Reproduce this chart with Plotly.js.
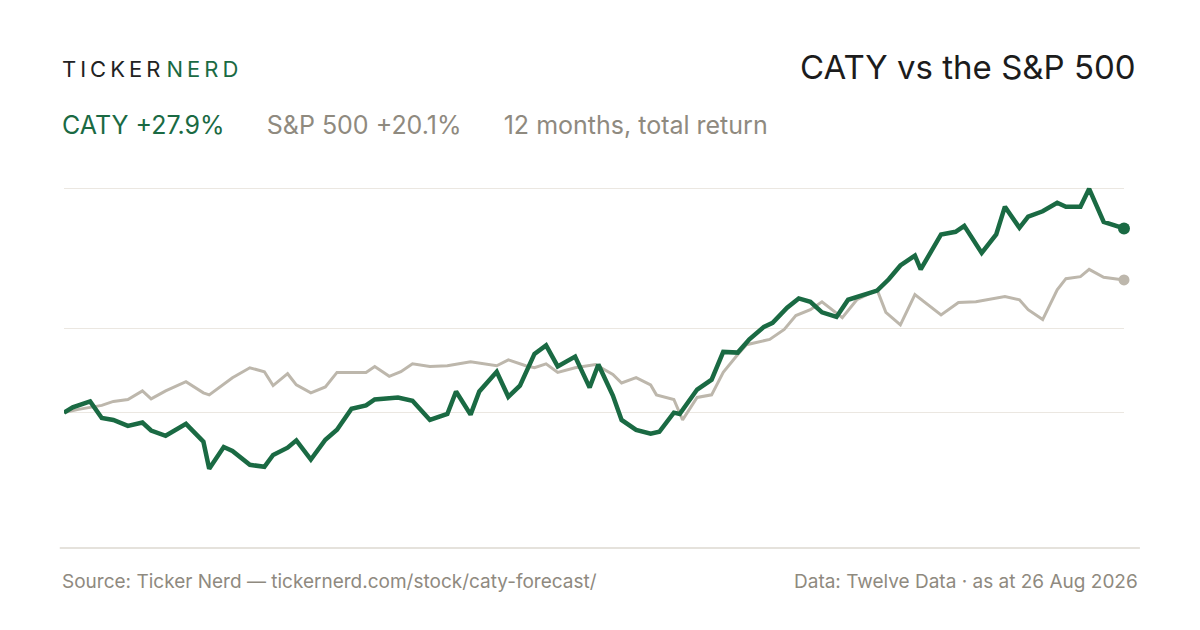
<!DOCTYPE html>
<html>
<head>
<meta charset="utf-8">
<script src="https://cdn.plot.ly/plotly-3.0.1.min.js"></script>
<style>
  html, body { margin: 0; padding: 0; background: #fff; }
  #plot { width: 1200px; height: 630px; }
</style>
</head>
<body>
<div id="plot"></div>
<script>
// days since start, total return in %
const catyDays = [0,3,9,13,17,22,27,30,35,42,48,50,55,58,64,69,72,77,80,85,90,94,99,104,107,115,120,126,132,135,140,143,149,153,157,162,166,170,176,181,184,189,192,197,202,205,210,212,218,223,227,232,236,241,244,249,253,257,261,266,270,274,280,284,288,293,295,302,307,310,316,321,324,329,332,337,342,345,350,353,358,365];
const catyReturn = [0,0.8,1.7,-0.8,-1.1,-2.0,-1.5,-2.7,-3.5,-1.7,-4.4,-8.5,-5.2,-5.8,-7.9,-8.2,-6.4,-5.3,-4.2,-7.1,-4.1,-2.6,0.6,1.1,2.0,2.3,1.8,-1.1,-0.2,3.2,-0.3,3.2,6.2,2.4,4.1,8.9,10.2,7.0,8.5,3.8,7.3,2.6,-1.1,-2.6,-3.2,-2.9,0,-0.2,3.5,5.0,9.2,9.1,11.1,13.0,13.6,15.9,17.3,16.8,15.2,14.5,17.1,17.7,18.5,20.2,22.3,23.8,21.7,27.0,27.4,28.3,24.2,27.0,31.2,28.0,29.7,30.5,31.8,31.2,31.2,33.9,28.9,27.9];
const spxDays = [0,5,13,17,22,27,30,35,42,48,50,58,64,69,72,77,80,85,90,94,104,107,112,116,120,126,132,140,149,153,159,162,166,170,176,183,189,192,197,202,204,210,213,218,223,227,232,235,243,248,252,257,261,268,273,280,283,288,293,302,308,314,324,329,332,337,342,345,350,353,358,365];
const spxReturn = [0,0.5,1.1,1.7,2.0,3.3,2.1,3.3,4.7,3.0,2.7,5.3,6.8,6.2,4.1,5.9,4.2,3.0,3.9,6.1,6.1,7.0,5.5,6.2,7.4,7.0,7.1,7.7,7.1,8.0,7.1,6.8,7.4,6.1,6.8,7.3,5.8,4.5,5.3,4.2,2.7,2.0,-1.1,2.3,2.7,6.1,8.8,10.3,11.1,12.6,14.7,15.6,16.8,14.4,17.1,18.6,15.2,13.3,17.9,14.8,16.7,16.8,17.6,17.1,15.6,14.1,18.6,20.3,20.6,21.7,20.5,20.1];
const gridVals = [0, 12.7, 33.9];

const GREEN = '#1a6a43';
const GREY = '#bdb7ac';
const MUTED = '#8f8a7f';

const data = [
  { x: spxDays, y: spxReturn, type: 'scatter', mode: 'lines',
    line: { color: GREY, width: 3 }, hoverinfo: 'skip' },
  { x: [spxDays[spxDays.length - 1]], y: [spxReturn[spxReturn.length - 1]], type: 'scatter', mode: 'markers',
    marker: { color: GREY, size: 11 }, cliponaxis: false, hoverinfo: 'skip' },
  { x: catyDays, y: catyReturn, type: 'scatter', mode: 'lines',
    line: { color: GREEN, width: 4.5 }, hoverinfo: 'skip' },
  { x: [catyDays[catyDays.length - 1]], y: [catyReturn[catyReturn.length - 1]], type: 'scatter', mode: 'markers',
    marker: { color: GREEN, size: 12 }, cliponaxis: false, hoverinfo: 'skip' },
];

const font = 'Inter, "Open Sans", sans-serif';
const sp = s => s.split('').join('\u2009');
const gap = '\u00a0'.repeat(6);

const layout = {
  width: 1200, height: 630,
  paper_bgcolor: '#fff', plot_bgcolor: '#fff',
  showlegend: false,
  margin: { l: 64, r: 76, t: 175, b: 82 },
  font: { family: font },
  xaxis: { range: [0, 365], showgrid: false, zeroline: false, showticklabels: false, fixedrange: true },
  yaxis: { range: [-20.5, 36], tickvals: gridVals, showticklabels: false, gridcolor: '#ebe7e1', gridwidth: 1,
    zeroline: false, fixedrange: true },
  shapes: [
    { type: 'line', xref: 'paper', yref: 'paper', x0: -0.004, x1: 1.015, y0: 0, y1: 0,
      line: { color: '#dcd8d0', width: 1.5 } },
  ],
  annotations: [
    { xref: 'paper', yref: 'paper', x: -0.004, y: 1.285, xanchor: 'left', yanchor: 'middle', showarrow: false,
      text: sp('TICKER') + '\u00a0<span style="color:' + GREEN + '">' + sp('NERD') + '</span>', font: { size: 22, color: '#222' } },
    { xref: 'paper', yref: 'paper', x: 1.013, y: 1.29, xanchor: 'right', yanchor: 'middle', showarrow: false,
      text: 'CATY vs the S&P 500', font: { size: 33, color: '#1c1c1c' } },
    { xref: 'paper', yref: 'paper', x: -0.004, y: 1.135, xanchor: 'left', yanchor: 'middle', showarrow: false,
      text: '<span style="color:' + GREEN + '">CATY +27.9%</span>' + gap + 'S&P 500 +20.1%' + gap + '12 months, total return',
      font: { size: 25, color: MUTED } },
    { xref: 'paper', yref: 'paper', x: -0.004, y: -0.09, xanchor: 'left', yanchor: 'middle', showarrow: false,
      text: 'Source: Ticker Nerd — tickernerd.com/stock/caty-forecast/', font: { size: 19, color: MUTED } },
    { xref: 'paper', yref: 'paper', x: 1.015, y: -0.09, xanchor: 'right', yanchor: 'middle', showarrow: false,
      text: 'Data: Twelve Data · as at 26 Aug 2026', font: { size: 19, color: MUTED } },
  ],
};

Plotly.newPlot('plot', data, layout, { staticPlot: true });
</script>
</body>
</html>
